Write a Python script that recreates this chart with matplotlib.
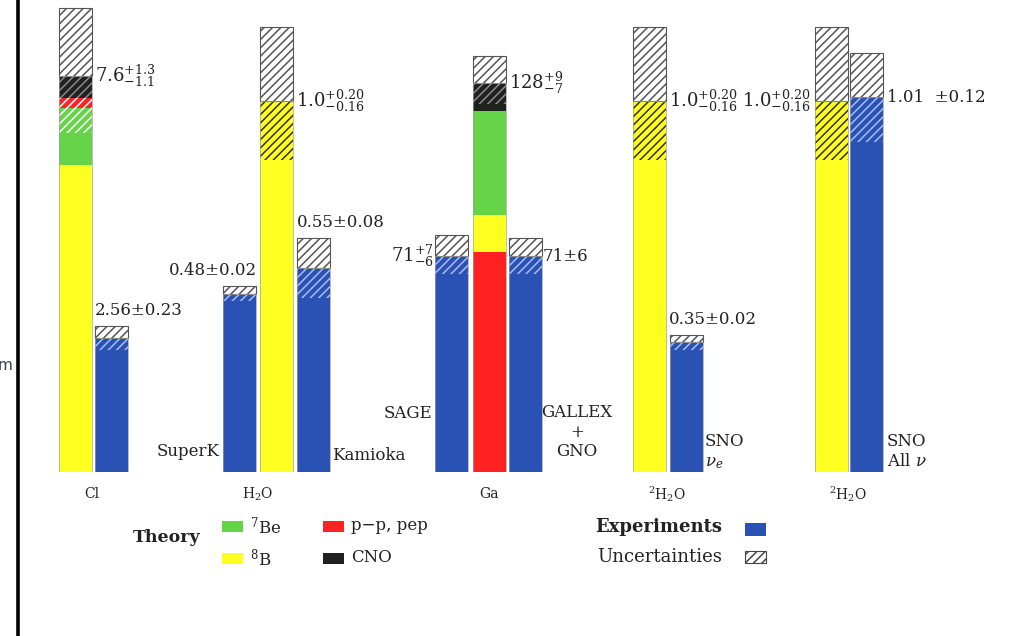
import matplotlib
matplotlib.use('Agg')
import matplotlib.pyplot as plt
from matplotlib.patches import Rectangle

plt.rcParams['font.family'] = 'DejaVu Serif'
plt.rcParams['mathtext.fontset'] = 'dejavuserif'
plt.rcParams['hatch.linewidth'] = 1.1

W, H = 1023, 636
BASE = 472      # pixel row of the common baseline
BW = 33         # bar width in pixels

C_8B = '#ffff22'
C_7BE = '#66d448'
C_PP = '#ff2222'
C_CNO = '#202020'
C_EXP = '#2a52b4'
TXT = '#222222'
HATCH = '////'

# hatch colour used where an error band lies over a coloured segment
HATCH_ON = {C_8B: '#303010', C_7BE: 'white', C_PP: 'white',
            C_CNO: '#8a8a8a', C_EXP: '#a9bcf2'}

# Chlorine (SNU): theory components bottom -> top, experiment
cl_parts = [5.88, 1.09, 0.21, 0.42]            # 8B, 7Be, pp+pep, CNO
cl_colors = [C_8B, C_7BE, C_PP, C_CNO]
cl_err = (1.3, 1.1)
cl_exp = 2.56
cl_exp_err = (0.23, 0.23)

# Water Cherenkov (ratio to BP2000)
h2o_theory = 1.0
h2o_err = (0.20, 0.16)
superk = 0.48
superk_err = (0.02, 0.02)
kamioka = 0.55
kamioka_err = (0.08, 0.08)

# Gallium (SNU)
ga_parts = [72.5, 12.1, 34.2, 9.2]             # pp+pep, 8B, 7Be, CNO
ga_colors = [C_PP, C_8B, C_7BE, C_CNO]
ga_err = (9, 7)
sage = 71
sage_err = (7, 6)
gallex = 71
gallex_err = (6, 6)

# Heavy water (ratio to BP2000)
d2o_theory = 1.0
d2o_err = (0.20, 0.16)
sno_cc = 0.35
sno_cc_err = (0.02, 0.02)
sno_nc = 1.01
sno_nc_err = (0.12, 0.12)

fig = plt.figure(figsize=(W / 100, H / 100), dpi=100)
fig.patch.set_facecolor('white')


def group_axes(ytop):
    # one axes per detector, all sharing the pixel baseline
    ax = fig.add_axes([0, (H - BASE) / H, 1, BASE / H])
    ax.set_xlim(0, W)
    ax.set_ylim(0, ytop)
    ax.axis('off')
    ax.patch.set_alpha(0)
    return ax


def stack(ax, x, parts, colors, err):
    segs = []
    bottom = 0
    for v, c in zip(parts, colors):
        ax.bar(x, v, width=BW, bottom=bottom, color=c, linewidth=0)
        segs.append((bottom, bottom + v, c))
        bottom += v
    up, dn = err
    lo = bottom - dn
    for b, t, c in segs:
        a, z = max(b, lo), min(t, bottom)
        if z > a:
            ax.bar(x, z - a, width=BW, bottom=a, facecolor='none',
                   edgecolor=HATCH_ON[c], hatch=HATCH, linewidth=0)
    ax.bar(x, up, width=BW, bottom=bottom, facecolor='white',
           edgecolor='#555555', hatch=HATCH, linewidth=0.8)
    ax.bar(x, bottom, width=BW, fill=False, edgecolor='#a0a0a0',
           linewidth=0.5)
    return bottom


def asym(v, err, fmt, efmt):
    return rf'${v:{fmt}}^{{+{err[0]:{efmt}}}}_{{-{err[1]:{efmt}}}}$'


def sym(v, err, fmt):
    return f'{v:{fmt}}\u00b1{err[0]:{fmt}}'


def label(ax, x, y, s, ha='left', dy=0, **kw):
    ax.annotate(s, (x, y), xytext=(0, dy), textcoords='offset pixels',
                ha=ha, va='center' if dy == 0 else 'bottom',
                fontsize=kw.pop('fontsize', 12), color=TXT, **kw)


# Chlorine
ax = group_axes(9.05)
t = stack(ax, 75, cl_parts, cl_colors, cl_err)
label(ax, 95, t, asym(t, cl_err, '.1f', '.1f'), fontsize=13)
t = stack(ax, 111, [cl_exp], [C_EXP], cl_exp_err)
label(ax, 95, t + cl_exp_err[0], sym(cl_exp, cl_exp_err, '.2f'), dy=7)

# Water
ax = group_axes(1.272)
t = stack(ax, 276, [h2o_theory], [C_8B], h2o_err)
label(ax, 296, t, asym(t, h2o_err, '.1f', '.2f'), fontsize=13)
t = stack(ax, 239.5, [superk], [C_EXP], superk_err)
label(ax, 257, t + superk_err[0], sym(superk, superk_err, '.2f'),
      ha='right', dy=7)
t = stack(ax, 313, [kamioka], [C_EXP], kamioka_err)
label(ax, 297, t + kamioka_err[0], sym(kamioka, kamioka_err, '.2f'), dy=7)

# Gallium
ax = group_axes(155.3)
t = stack(ax, 489, ga_parts, ga_colors, ga_err)
label(ax, 509, t, asym(round(t), ga_err, 'd', 'd'), fontsize=13)
t = stack(ax, 451.5, [sage], [C_EXP], sage_err)
label(ax, 434, t, asym(sage, sage_err, 'd', 'd'), ha='right', fontsize=13)
t = stack(ax, 525, [gallex], [C_EXP], gallex_err)
label(ax, 543, t, f'{gallex}\u00b1{gallex_err[0]}')

# Heavy water, charged current
ax = group_axes(1.272)
t = stack(ax, 649.5, [d2o_theory], [C_8B], d2o_err)
label(ax, 669, t, asym(t, d2o_err, '.1f', '.2f'), fontsize=13)
t = stack(ax, 686, [sno_cc], [C_EXP], sno_cc_err)
label(ax, 669, t + sno_cc_err[0], sym(sno_cc, sno_cc_err, '.2f'), dy=7)

# Heavy water, all flavours
ax = group_axes(1.272)
t = stack(ax, 831, [d2o_theory], [C_8B], d2o_err)
label(ax, 811, t, asym(t, d2o_err, '.1f', '.2f'), ha='right', fontsize=13)
t = stack(ax, 866.5, [sno_nc], [C_EXP], sno_nc_err)
label(ax, 887, t, f'{sno_nc:.2f}  \u00b1{sno_nc_err[0]:.2f}')

# pixel overlay for names, legend and frame line
lay = fig.add_axes([0, 0, 1, 1])
lay.set_xlim(0, W)
lay.set_ylim(H, 0)
lay.axis('off')
lay.patch.set_alpha(0)

lay.plot([18, 18], [0, H], color='black', lw=2.6, solid_capstyle='butt')
lay.text(-2, 365, 'm', fontsize=11, color='#3a3a55', va='center',
         family='DejaVu Sans')

names = [
    (220, 452, 'SuperK', 'right'),
    (332, 456, 'Kamioka', 'left'),
    (432, 414, 'SAGE', 'right'),
]
for x, y, s, ha in names:
    lay.text(x, y, s, ha=ha, va='center', fontsize=12, color=TXT)
lay.text(577, 404, 'GALLEX\n+\nGNO', ha='center', va='top', fontsize=12,
         color=TXT, linespacing=1.2)
lay.text(705, 433, 'SNO\n$\\nu_e$', ha='left', va='top', fontsize=12,
         color=TXT, linespacing=1.25)
lay.text(887, 433, 'SNO\nAll $\\nu$', ha='left', va='top', fontsize=12,
         color=TXT, linespacing=1.25)

groups = [(92, 'Cl'), (258, 'H$_2$O'), (489, 'Ga'),
          (667, '$^2$H$_2$O'), (848, '$^2$H$_2$O')]
for x, s in groups:
    lay.text(x, 494, s, ha='center', va='center', fontsize=10, color=TXT)

# legend
lay.text(133, 537, 'Theory', ha='left', va='center', fontsize=12.5,
         fontweight='bold', color=TXT)
swatches = [(222, 521, C_7BE, '$^7$Be'), (323, 521, C_PP, 'p\u2212p, pep'),
            (222, 553, C_8B, '$^8$B'), (323, 553, C_CNO, 'CNO')]
for x, y, c, s in swatches:
    lay.add_patch(Rectangle((x, y), 21, 11, facecolor=c, edgecolor='none'))
    lay.text(x + 28, y + 5, s, ha='left', va='center', fontsize=12,
             color=TXT)
lay.text(722, 527, 'Experiments', ha='right', va='center', fontsize=13,
         fontweight='bold', color=TXT)
lay.add_patch(Rectangle((745, 523), 21, 13, facecolor=C_EXP,
                        edgecolor='none'))
lay.text(722, 557, 'Uncertainties', ha='right', va='center', fontsize=13,
         color=TXT)
lay.add_patch(Rectangle((745, 551), 21, 12, facecolor='white',
                        edgecolor='#444444', hatch=HATCH, lw=0.8))

fig.savefig('out.png', dpi=100)
